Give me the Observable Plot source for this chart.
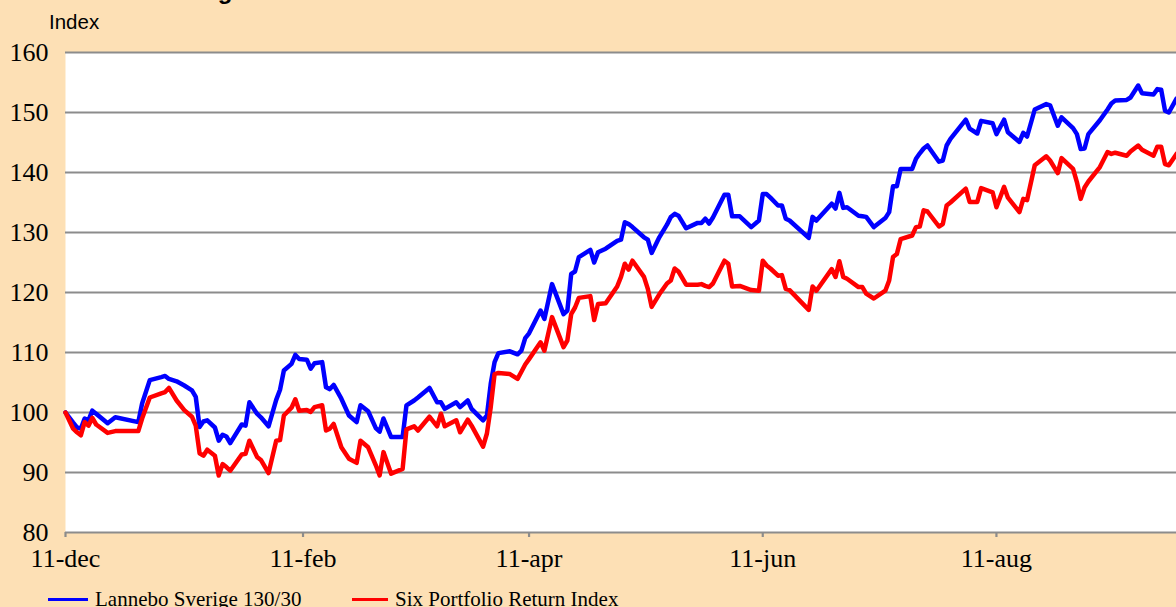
<!DOCTYPE html>
<html>
<head>
<meta charset="utf-8">
<script src="https://cdn.jsdelivr.net/npm/d3@7"></script>
<script src="https://cdn.jsdelivr.net/npm/@observablehq/plot@0.6"></script>
<style>
  html, body { margin: 0; padding: 0; }
  body { width: 1176px; height: 607px; overflow: hidden; background: #fde0b5; position: relative; }
  #title { position: absolute; left: 47px; top: -21px; font: bold 24px "Liberation Sans", Arial, sans-serif; line-height: 24px; white-space: nowrap; color: #000; }
  #ylabel { position: absolute; left: 49px; top: 10px; font: 20.5px "Liberation Sans", Arial, sans-serif; line-height: 24px; color: #000; }
  #chart { position: absolute; left: 0; top: 0; }
  .leg { position: absolute; top: 587px; font: 21px "Liberation Serif", "Times New Roman", serif; line-height: 24px; white-space: nowrap; color: #000; display: flex; align-items: center; }
  .sw { display: inline-block; width: 40px; height: 3px; margin-right: 7px; }
</style>
</head>
<body>
<div id="title">Värdeutveckling</div>
<div id="ylabel">Index</div>
<div id="chart"></div>
<div id="legend"></div>
<script>
const dates = [
"2008-12-11","2008-12-13","2008-12-14","2008-12-15","2008-12-16","2008-12-17","2008-12-18","2008-12-19","2008-12-22","2008-12-24",
"2008-12-30","2008-12-31","2009-01-02","2009-01-05","2009-01-06","2009-01-07","2009-01-09","2009-01-11","2009-01-13","2009-01-14",
"2009-01-15","2009-01-16","2009-01-17","2009-01-19","2009-01-20","2009-01-21","2009-01-22","2009-01-23","2009-01-26","2009-01-27",
"2009-01-28","2009-01-30","2009-01-31","2009-02-02","2009-02-04","2009-02-05","2009-02-06","2009-02-08","2009-02-09","2009-02-10",
"2009-02-12","2009-02-13","2009-02-14","2009-02-16","2009-02-17","2009-02-18","2009-02-19","2009-02-21","2009-02-23","2009-02-25",
"2009-02-26","2009-02-28","2009-03-02","2009-03-03","2009-03-04","2009-03-06","2009-03-09","2009-03-10","2009-03-12","2009-03-13",
"2009-03-16","2009-03-18","2009-03-19","2009-03-20","2009-03-23","2009-03-24","2009-03-26","2009-03-27","2009-03-30","2009-03-31",
"2009-04-01","2009-04-02","2009-04-03","2009-04-06","2009-04-08","2009-04-09","2009-04-10","2009-04-11","2009-04-14","2009-04-15",
"2009-04-17","2009-04-20","2009-04-21","2009-04-22","2009-04-23","2009-04-24","2009-04-27","2009-04-28","2009-04-29","2009-05-01",
"2009-05-04","2009-05-05","2009-05-06","2009-05-07","2009-05-08","2009-05-11","2009-05-12","2009-05-13","2009-05-15","2009-05-17",
"2009-05-18","2009-05-19","2009-05-20","2009-05-22","2009-05-25","2009-05-26","2009-05-27","2009-05-28","2009-05-29","2009-06-01",
"2009-06-02","2009-06-03","2009-06-05","2009-06-08","2009-06-10","2009-06-11","2009-06-12","2009-06-13","2009-06-15","2009-06-16",
"2009-06-17","2009-06-18","2009-06-23","2009-06-24","2009-06-25","2009-06-29","2009-06-30","2009-07-01","2009-07-02","2009-07-03",
"2009-07-06","2009-07-07","2009-07-08","2009-07-10","2009-07-13","2009-07-14","2009-07-15","2009-07-16","2009-07-17","2009-07-20",
"2009-07-21","2009-07-22","2009-07-23","2009-07-24","2009-07-27","2009-07-28","2009-07-29","2009-07-30","2009-08-03","2009-08-04",
"2009-08-06","2009-08-07","2009-08-10","2009-08-11","2009-08-13","2009-08-14","2009-08-17","2009-08-18","2009-08-19","2009-08-21",
"2009-08-24","2009-08-25","2009-08-27","2009-08-28","2009-08-31","2009-09-01","2009-09-02","2009-09-03","2009-09-04","2009-09-07",
"2009-09-09","2009-09-10","2009-09-11","2009-09-14","2009-09-15","2009-09-17","2009-09-18","2009-09-21","2009-09-22","2009-09-23",
"2009-09-24","2009-09-25","2009-09-27"
];
const lannebo = [
100,98.3,97.5,97.3,99,98.7,100.3,99.8,98.2,99.2,
98.4,101.5,105.4,105.9,106.1,105.6,105.2,104.5,103.7,102.6,
97.6,98.5,98.7,97.5,95.3,96.3,96.0,94.9,98.0,97.8,
101.7,99.8,99.2,97.7,102.1,103.8,107,108.1,109.6,108.9,
108.8,107.3,108.2,108.4,104.2,103.9,104.6,102.3,99.5,98.4,
101.2,100.2,97.4,96.8,99,95.9,95.9,101.2,102,102.5,
104.1,101.7,101.7,100.6,101.7,100.9,102,100.6,98.7,99.5,
104.8,108.4,109.9,110.2,109.7,110.3,112.4,113.2,117,115.6,
121.4,116.4,117,123.1,123.5,125.9,127.1,125,126.7,127.3,
128.6,128.8,131.7,131.4,130.9,129.2,128.8,126.6,129.2,131.3,
132.6,133.1,132.8,130.7,131.6,131.6,132.3,131.5,132.5,136.3,
136.3,132.7,132.7,130.9,132,136.4,136.4,135.8,134.5,134.5,
132.3,132,129.1,132.6,132,134.8,134,136.6,134.1,134.2,
132.8,132.7,132.6,130.9,132.4,133.4,137.7,137.7,140.6,140.6,
142.3,143.2,144,144.5,141.8,142,144.5,145.6,148.8,147.3,
146.5,148.6,148.2,146.4,148.8,146.7,145.1,146.6,146,150.5,
151.4,151.2,147.8,149.2,147.4,146.4,143.9,144,146.4,148.7,
150.5,151.5,152,152.1,152.5,154.5,153.2,153,153.9,153.8,
150.3,150,152.3
];
const six = [
100,97.3,96.7,96.2,98.4,97.8,99.1,98,96.6,96.9,
96.9,99,102.5,103.2,103.4,104.1,102,100.4,99.3,97.8,
93.2,92.8,93.8,92.8,89.5,91.4,90.9,90.3,93,93.1,
95.3,92.6,92.1,89.9,95.3,95.4,99.5,100.8,102.2,100.3,
100.4,100.1,100.9,101.2,97,97.3,98.1,94.2,92.3,91.6,
95.3,94.2,91.2,89.5,93.4,89.8,90.6,97.2,97.7,97,
99.3,97.7,99.8,97.7,98.7,96.7,98.8,97.8,94.3,96.5,
100.9,106.4,106.6,106.4,105.6,106.8,108,108.9,111.7,110.3,
115.9,110.9,112,116.4,117.5,119.1,119.4,115.4,118.1,118.2,
121,122.6,124.8,123.8,125.3,122.6,120.6,117.6,119.7,121.5,
122,124,123.5,121.3,121.3,121.4,121.1,120.9,121.5,125.3,
124.8,121,121.1,120.4,120.3,125.3,124.5,124,122.8,122.9,
120.6,120.4,117.1,121,120.3,123.9,122.6,125.2,122.6,122.3,
120.9,120.9,119.8,119,120.3,122,125.9,126.4,128.9,129.5,
130.9,131,133.7,133.5,131,131.4,134.5,135,137.3,135.1,
135.1,137.4,136.7,134.2,137.6,135.8,133.4,135.6,135.4,141.2,
142.7,142,139.9,142.4,140.6,138.4,135.6,137.5,138.5,140.9,
143.4,143.1,143.3,142.8,143.5,144.5,143.8,142.8,144.3,144.3,
141.4,141.2,143.1
];
const yTicks = [80, 90, 100, 110, 120, 130, 140, 150, 160];
const xTickDates = ["2008-12-11", "2009-02-11", "2009-04-11", "2009-06-11", "2009-08-11"];
const xTickLabels = ["11-dec", "11-feb", "11-apr", "11-jun", "11-aug"];
const seriesNames = ["Lannebo Sverige 130/30", "Six Portfolio Return Index"];
const seriesColors = ["#0000ff", "#ff0000"];

const data = dates.map((d, i) => ({date: new Date(d), lannebo: lannebo[i], six: six[i]}));
const tickDates = xTickDates.map(d => new Date(d));

const chart = Plot.plot({
  width: 1176,
  height: 580,
  marginLeft: 65,
  marginRight: 0,
  marginTop: 52,
  marginBottom: 48,
  style: {background: "transparent", fontFamily: "Liberation Serif, Times New Roman, serif", fontSize: "26px", color: "#000"},
  x: {type: "utc", domain: [new Date("2008-12-11"), new Date("2009-09-27")]},
  y: {domain: [80, 160]},
  marks: [
    Plot.frame({fill: "white", stroke: "none"}),
    Plot.ruleY(yTicks, {stroke: "#8c8c8c", strokeWidth: 2.2}),
    Plot.axisY({ticks: yTicks, tickSize: 0, tickPadding: 17, fontSize: 26, label: null, fill: "#000"}),
    Plot.axisX({
      ticks: tickDates,
      tickFormat: d => xTickLabels[tickDates.findIndex(t => +t === +d)],
      tickSize: 5, tickPadding: 11, fontSize: 26, label: null,
      stroke: "#8c8c8c", strokeWidth: 2.2, fill: "#000"
    }),
    Plot.line(data, {x: "date", y: "lannebo", stroke: seriesColors[0], strokeWidth: 4.5, strokeLinejoin: "round"}),
    Plot.line(data, {x: "date", y: "six", stroke: seriesColors[1], strokeWidth: 4.5, strokeLinejoin: "round"})
  ]
});
document.getElementById("chart").appendChild(chart);

const legend = document.getElementById("legend");
const legLeft = [48, 352];
seriesNames.forEach((name, i) => {
  const item = document.createElement("div");
  item.className = "leg";
  item.style.left = legLeft[i] + "px";
  const sw = document.createElement("span");
  sw.className = "sw";
  sw.style.background = seriesColors[i];
  sw.style.width = (i === 0 ? 40 : 36) + "px";
  item.appendChild(sw);
  item.appendChild(document.createTextNode(name));
  legend.appendChild(item);
});
</script>
</body>
</html>
